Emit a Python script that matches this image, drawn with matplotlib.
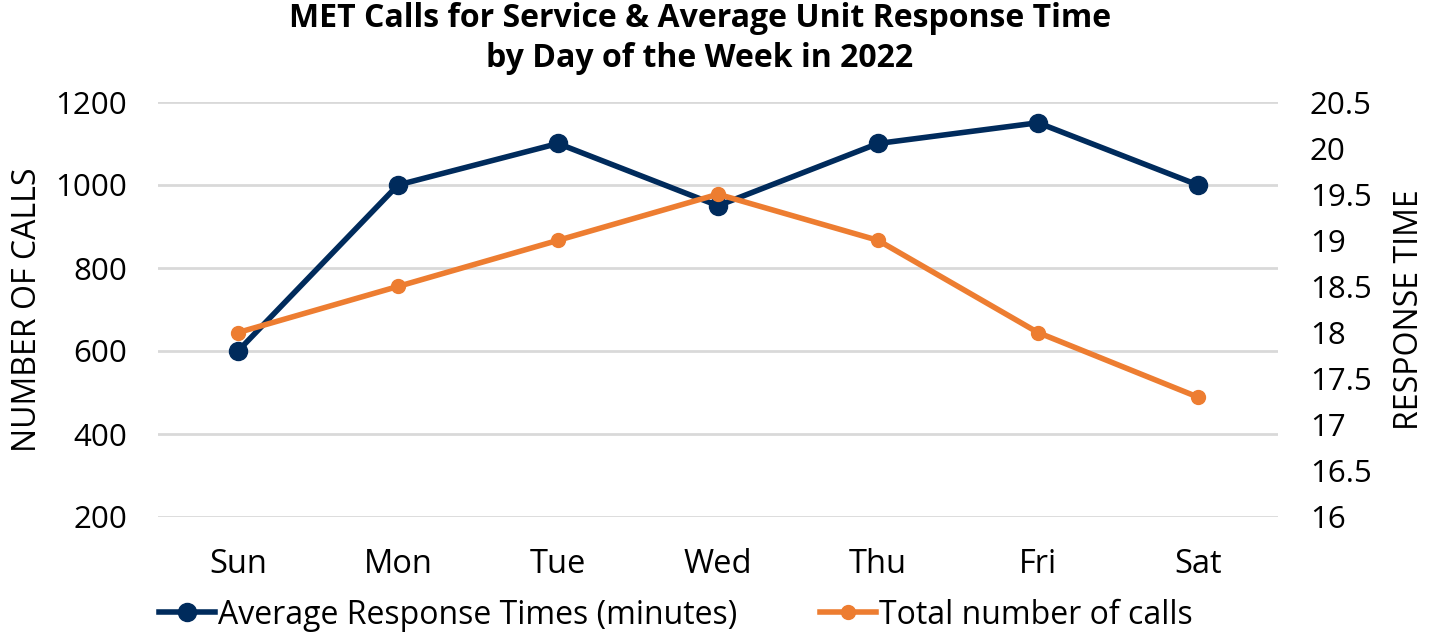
import matplotlib
matplotlib.use("Agg")
import matplotlib.pyplot as plt
from matplotlib.lines import Line2D

days = ["Sun", "Mon", "Tue", "Wed", "Thu", "Fri", "Sat"]
avg_response = [600, 1000, 1100, 950, 1100, 1150, 1000]
total_calls = [18.0, 18.5, 19.0, 19.5, 19.0, 18.0, 17.3]
left_ticks = [200, 400, 600, 800, 1000, 1200]
right_ticks = [16, 16.5, 17, 17.5, 18, 18.5, 19, 19.5, 20, 20.5]

plt.rcParams['font.family'] = ['Open Sans', 'DejaVu Sans']
blue = '#002b5c'
orange = '#ed7d31'

fig = plt.figure(figsize=(14.34, 6.34), dpi=100)
ax = fig.add_axes([158/1434, 1-517/634, (1278-158)/1434, (517-102)/634])
ax2 = ax.twinx()

x = list(range(len(days)))
ax.plot(x, avg_response, color=blue, lw=4, marker='o', ms=13, zorder=3)
ax2.plot(x, total_calls, color=orange, lw=4, marker='o', ms=10, zorder=3)

ax.set_xlim(-0.5, 6.5)
ax.set_ylim(200, 1200)
ax.set_yticks(left_ticks)
ax.set_yticklabels([str(t) for t in left_ticks])
ax2.set_ylim(16, 20.5)
ax2.set_yticks(right_ticks)
ax2.set_yticklabels([f"{t:g}" for t in right_ticks])
ax.set_xticks(x)
ax.set_xticklabels(days)

ax.grid(axis='y', color='#d9d9d9', lw=2)
ax.set_axisbelow(True)
for a in (ax, ax2):
    for s in a.spines.values():
        s.set_visible(False)
    a.tick_params(length=0, labelsize=22.5, colors='black')
ax.tick_params(axis='x', labelsize=23.5, pad=22)
ax.tick_params(axis='y', pad=22)
ax2.tick_params(axis='y', pad=23)

ax.set_ylabel("NUMBER OF CALLS", fontsize=23, labelpad=8)
ax2.set_ylabel("RESPONSE TIME", fontsize=23, labelpad=15)

fig.suptitle("MET Calls for Service & Average Unit Response Time\nby Day of the Week in 2022",
             fontsize=23, fontweight='bold', y=0.997, x=700/1434, linespacing=1.3)

handles = [Line2D([], [], color=blue, lw=4, marker='o', ms=13),
           Line2D([], [], color=orange, lw=4, marker='o', ms=10)]
fig.legend(handles, ["Average Response Times (minutes)", "Total number of calls"],
           loc='center', bbox_to_anchor=(676/1434, 1-615/634), ncol=2, frameon=False,
           fontsize=23, handlelength=1.75, handletextpad=0.1, columnspacing=2.6)

fig.savefig("out.png", dpi=100)
